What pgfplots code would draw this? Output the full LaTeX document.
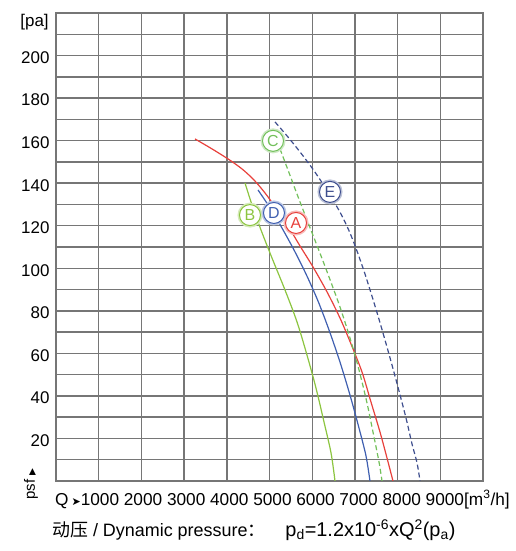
\documentclass[border=0pt]{standalone}
\usepackage{fontspec}
\setmainfont{Liberation Sans}
\newfontfamily\cjk{Noto Sans CJK SC}
\newfontfamily\sym{DejaVu Sans}
\usepackage{pgfplots}
\pgfplotsset{compat=1.18}
\definecolor{cA}{HTML}{E8413C}
\definecolor{cB}{HTML}{8CC540}
\definecolor{cC}{HTML}{72C05A}
\definecolor{cD}{HTML}{3F5FB0}
\definecolor{cE}{HTML}{3E4E8E}
\definecolor{gridc}{HTML}{767676}
\tikzset{lbl/.style={circle, draw=#1, text=#1, fill=white, line width=1bp,
  minimum size=21bp, inner sep=0pt, font=\fontsize{16}{16}\selectfont,
  preaction={draw=#1!35, line width=4bp}}}
\begin{document}
\begin{tikzpicture}
\path[use as bounding box] (-56bp,-70bp) rectangle (460bp,481bp);
\begin{axis}[
  scale only axis, width=427bp, height=468bp,
  xmin=0, xmax=10000, ymin=0, ymax=220,
  scaled x ticks=false, scaled y ticks=false,
  xtick={1000,2000,...,9000}, xticklabels={},
  ytick={10,20,...,210},
  yticklabels={,20,,40,,60,,80,,100,,120,,140,,160,,180,,200,},
  grid=major, grid style={gridc, line width=1.4bp},
  axis line style={gridc, line width=1.4bp},
  major tick length=0pt,
  tick label style={font=\fontsize{17}{17}\selectfont},
  /pgf/number format/assume math mode=true,
  yticklabel style={xshift=-3bp, yshift=-2bp},
]
% A red solid
\addplot[cA, line width=1.2bp, smooth] coordinates {
 (3255,160.8) (3654,156.1) (4028,151.4) (4356,146.7) (4637,141.5) (4895,135.4)
 (5152,128.3) (5433,119.9) (5714,110.5) (6019,100.6) (6347,88.9) (6651,76.6)
 (6909,64.4) (7167,51.2) (7377,37.1) (7588,23.0) (7752,10.8) (7892,0)};
% D blue solid
\addplot[cD, line width=1.2bp, smooth] coordinates {
 (4731,136.8) (5012,128.4) (5293,118.9) (5574,108.6) (5855,97.3) (6136,84.6)
 (6394,71.0) (6651,55.9) (6885,40.4) (7096,24.9) (7260,11.8) (7353,0)};
% B green solid
\addplot[cB, line width=1.2bp, smooth] coordinates {
 (4426,140.1) (4590,129.8) (4801,118.0) (5059,104.8) (5363,89.8) (5644,74.8)
 (5878,59.2) (6089,43.7) (6277,27.7) (6441,13.2) (6534,0)};
% C green dashed
\addplot[cC, line width=1.2bp, smooth, dash pattern=on 5bp off 3bp] coordinates {
 (5246,156.1) (5433,146.2) (5644,134.9) (5878,122.7) (6136,109.5) (6394,95.9)
 (6651,81.8) (6885,67.2) (7096,52.2) (7283,36.7) (7447,20.7) (7565,8.9) (7635,0)};
% E blue dashed
\addplot[cE, line width=1.2bp, smooth, dash pattern=on 5bp off 3bp] coordinates {
 (5129,168.8) (5433,161.7) (5714,154.7) (5995,147.2) (6253,139.6) (6487,132.1)
 (6698,124.6) (6885,116.6) (7049,108.1) (7213,98.7) (7377,88.4) (7541,77.6)
 (7705,66.3) (7869,54.5) (8033,42.3) (8197,29.6) (8338,17.4) (8455,8.5) (8525,0)};
\node[lbl=cC] at (axis cs:5082,159.9) {C};
\node[lbl=cB] at (axis cs:4543,125) {B};
\node[lbl=cD] at (axis cs:5105,126) {D};
\node[lbl=cA] at (axis cs:5621,121.3) {A};
\node[lbl=cE] at (axis cs:6417,135.9) {E};
\end{axis}
\node[anchor=center, inner sep=0pt, font=\fontsize{17}{17}\selectfont] at (-21.5bp,459bp) {[pa]};
\node[anchor=base west, inner sep=0pt, font=\fontsize{17.3}{17.3}\selectfont] at (-1bp,-24bp)
  {Q\hspace{3bp}{\sym\fontsize{11}{11}\selectfont ➤}1000 2000 3000 4000 5000 6000 7000 8000 9000[m\textsuperscript{3}/h]};
\node[rotate=90, inner sep=0pt, font=\fontsize{15}{15}\selectfont] at (-25bp,-3bp)
  {psf {\sym\fontsize{9}{9}\selectfont ▶}};
\node[anchor=west, inner sep=0pt, font=\fontsize{18}{18}\selectfont] at (-4bp,-49bp)
  {{\cjk 动压} / Dynamic pressure{\cjk ：}\hspace{20bp}{\fontsize{20}{20}\selectfont p\textsubscript{d}=1.2x10\textsuperscript{-6}xQ\textsuperscript{2}(p\textsubscript{a})}};
\end{tikzpicture}
\end{document}
